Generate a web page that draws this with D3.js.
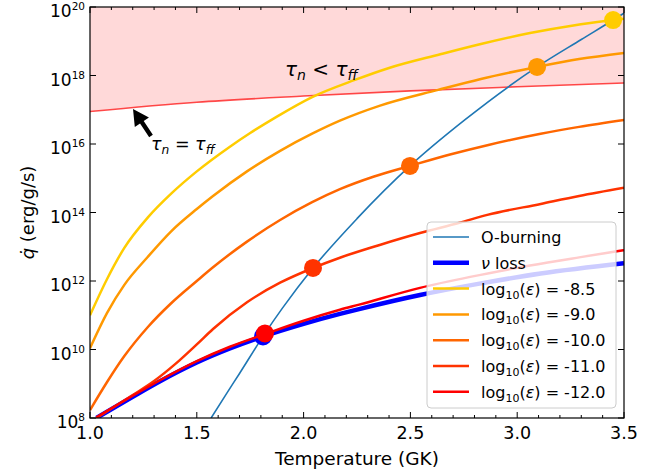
<!DOCTYPE html>
<html><head><meta charset="utf-8">
<script src="https://cdn.jsdelivr.net/npm/d3@7"></script>
<style>
html,body{margin:0;padding:0;background:#fff;}
text{font-family:"DejaVu Sans",sans-serif;fill:#000;}
</style></head>
<body><svg id="c" width="667" height="471"></svg>
<script>
// ---- data (log10 of q in erg/g/s vs temperature in GK) ----
const xTicks = [1.0, 1.5, 2.0, 2.5, 3.0, 3.5];
const yTickExps = [8, 10, 12, 14, 16, 18, 20];

const tauT   = [1.0, 1.5, 2.0, 2.5, 3.0, 3.5];
const tauLog = [16.95, 17.22, 17.40, 17.55, 17.67, 17.78];

const oburnT   = [1.567, 1.64, 1.70, 1.819, 1.90, 2.044, 2.25, 2.498, 2.756, 3.093, 3.30, 3.449, 3.50];
const oburnLog = [8.0, 8.72, 9.30, 10.47, 11.20, 12.38, 13.82, 15.36, 16.71, 18.25, 19.05, 19.62, 19.82];

const nuT   = [1.03, 1.2, 1.33, 1.5, 1.655, 1.81, 2.0, 2.17, 2.26, 2.545, 2.83, 3.11, 3.5];
const nuLog = [8.0, 8.62, 9.08, 9.62, 10.03, 10.38, 10.75, 11.04, 11.18, 11.59, 11.93, 12.22, 12.52];

const epsLabels = ["-8.5", "-9.0", "-10.0", "-11.0", "-12.0"];
const epsColors = ["#ffcc00", "#ff9900", "#ff6600", "#ff3300", "#ff0000"];
const eps85T   = [1.0, 1.08, 1.16, 1.27, 1.38, 1.5, 1.65, 1.75, 1.875, 2.04, 2.24, 2.4, 2.64, 2.83, 3.06, 3.27, 3.449, 3.5];
const eps85Log = [11.0, 12.06, 12.96, 13.85, 14.55, 15.2, 15.9, 16.32, 16.8, 17.37, 17.87, 18.22, 18.62, 18.92, 19.24, 19.47, 19.62, 19.66];
const eps90T   = [1.0, 1.08, 1.16, 1.27, 1.38, 1.5, 1.576, 1.735, 1.89, 2.04, 2.17, 2.358, 2.63, 2.83, 3.093, 3.29, 3.5];
const eps90Log = [10.04, 11.07, 11.88, 12.70, 13.45, 14.10, 14.48, 15.20, 15.80, 16.30, 16.68, 17.12, 17.58, 17.90, 18.25, 18.48, 18.66];
const eps100T   = [1.0, 1.08, 1.16, 1.27, 1.38, 1.5, 1.576, 1.735, 1.89, 2.04, 2.17, 2.33, 2.498, 2.69, 2.87, 3.11, 3.29, 3.5];
const eps100Log = [8.23, 9.05, 9.80, 10.65, 11.35, 12.00, 12.40, 13.15, 13.78, 14.30, 14.68, 15.05, 15.36, 15.70, 15.98, 16.30, 16.50, 16.70];
const eps110T   = [1.03, 1.2, 1.3, 1.4, 1.5, 1.576, 1.735, 1.89, 2.044, 2.17, 2.36, 2.545, 2.73, 2.86, 3.11, 3.29, 3.5];
const eps110Log = [8.0, 8.67, 9.08, 9.58, 10.15, 10.60, 11.38, 11.95, 12.38, 12.68, 13.06, 13.40, 13.70, 13.93, 14.25, 14.48, 14.72];
const eps120T   = [1.03, 1.2, 1.33, 1.5, 1.655, 1.819, 2.0, 2.17, 2.26, 2.545, 2.78, 3.06, 3.29, 3.5];
const eps120Log = [8.02, 8.65, 9.11, 9.66, 10.08, 10.45, 10.84, 11.16, 11.31, 11.80, 12.12, 12.45, 12.69, 12.90];

// crossing points (O-burning = eps curves; nu loss dot)
const dotT   = [3.449, 3.093, 2.498, 2.044, 1.819];
const dotLog = [19.62, 18.25, 15.36, 12.38, 10.47];
const nuDotT = 1.81, nuDotLog = 10.38;

// ---- layout ----
const L = 90, R = 624, T = 7, B = 418;
const svg = d3.select("#c");
const x = d3.scaleLinear().domain([1.0, 3.5]).range([L, R]);
const y = d3.scaleLog().domain([1e8, 1e20]).range([B, T]);
const pts = (ts, ls) => ts.map((t, i) => [t, Math.pow(10, ls[i])]);
const line = d3.line().x(d => x(d[0])).y(d => y(d[1])).curve(d3.curveMonotoneX);

svg.append("defs").append("clipPath").attr("id", "clip")
  .append("rect").attr("x", L).attr("y", T).attr("width", R - L).attr("height", B - T);
const g = svg.append("g").attr("clip-path", "url(#clip)");

// shaded region
const tauPts = pts(tauT, tauLog);
const area = d3.area().x(d => x(d[0])).y0(T).y1(d => y(d[1])).curve(d3.curveMonotoneX);
g.append("path").datum(tauPts).attr("d", area).attr("fill", "#ff0000").attr("fill-opacity", 0.15);
g.append("path").datum(tauPts).attr("d", line).attr("fill", "none")
  .attr("stroke", "#ff0000").attr("stroke-opacity", 0.7).attr("stroke-width", 1.6);

// O-burning
g.append("path").datum(pts(oburnT, oburnLog)).attr("d", line).attr("fill", "none")
  .attr("stroke", "#1f77b4").attr("stroke-width", 1.6);
// nu loss
g.append("path").datum(pts(nuT, nuLog)).attr("d", line).attr("fill", "none")
  .attr("stroke", "#0000ff").attr("stroke-width", 4.5);
g.append("circle").attr("cx", x(nuDotT)).attr("cy", y(Math.pow(10, nuDotLog))).attr("r", 9).attr("fill", "#0000ff");

const epsSeries = [[eps85T, eps85Log], [eps90T, eps90Log], [eps100T, eps100Log], [eps110T, eps110Log], [eps120T, eps120Log]];
epsSeries.forEach((s, i) => {
  g.append("path").datum(pts(s[0], s[1])).attr("d", line).attr("fill", "none")
    .attr("stroke", epsColors[i]).attr("stroke-width", 2.5);
});
epsSeries.forEach((s, i) => {
  g.append("circle").attr("cx", x(dotT[i])).attr("cy", y(Math.pow(10, dotLog[i]))).attr("r", 9)
    .attr("fill", epsColors[i]);
});

// ---- axes ----
const tickLen = 6, minorLen = 3;
const minorX = d3.range(1.0, 3.5001, 0.1).map(v => +v.toFixed(1));
const ax = svg.append("g").attr("stroke", "#000").attr("stroke-width", 1);
minorX.forEach(v => {
  const len = xTicks.some(t => Math.abs(t - v) < 1e-6) ? tickLen : minorLen;
  ax.append("line").attr("x1", x(v)).attr("x2", x(v)).attr("y1", B).attr("y2", B - len);
  ax.append("line").attr("x1", x(v)).attr("x2", x(v)).attr("y1", T).attr("y2", T + len);
});
yTickExps.forEach(e => {
  const yy = y(Math.pow(10, e));
  ax.append("line").attr("x1", L).attr("x2", L + tickLen).attr("y1", yy).attr("y2", yy);
  ax.append("line").attr("x1", R).attr("x2", R - tickLen).attr("y1", yy).attr("y2", yy);
});
svg.append("rect").attr("x", L).attr("y", T).attr("width", R - L).attr("height", B - T)
  .attr("fill", "none").attr("stroke", "#000").attr("stroke-width", 1.2);

xTicks.forEach(v => {
  svg.append("text").attr("x", x(v)).attr("y", B + 21).attr("text-anchor", "middle")
    .attr("font-size", 17.5).text(v.toFixed(1));
});
yTickExps.forEach(e => {
  const t = svg.append("text").attr("x", L - 5).attr("y", y(Math.pow(10, e)) + 10)
    .attr("text-anchor", "end").attr("font-size", 17);
  t.append("tspan").text("10");
  t.append("tspan").attr("dy", -7).attr("font-size", 10.5).text(String(e));
});

svg.append("text").attr("x", (L + R) / 2).attr("y", 465).attr("text-anchor", "middle")
  .attr("font-size", 18.5).text("Temperature (GK)");
const yl = svg.append("text").attr("transform", "translate(34," + ((T + B) / 2) + ") rotate(-90)")
  .attr("text-anchor", "middle").attr("font-size", 18);
yl.append("tspan").attr("font-style", "italic").text("q\u0307");
yl.append("tspan").text(" (erg/g/s)");

// ---- annotations ----
function tauText(xp, yp, op, size) {
  const t = svg.append("text").attr("x", xp).attr("y", yp).attr("font-size", size);
  t.append("tspan").attr("font-style", "italic").text("\u03c4");
  t.append("tspan").attr("font-style", "italic").attr("font-size", size * 0.7).attr("dy", 4).text("n");
  t.append("tspan").attr("dy", -4).text(" " + op + " ");
  t.append("tspan").attr("font-style", "italic").text("\u03c4");
  t.append("tspan").attr("font-style", "italic").attr("font-size", size * 0.7).attr("dy", 4).text("ff");
}
tauText(285, 76, "<", 20);
tauText(151, 150, "=", 17.5);

// arrow pointing at tau line
(function () {
  const tip = [133, 109], tail = [151, 136];
  const dx = tail[0] - tip[0], dy = tail[1] - tip[1], len = Math.hypot(dx, dy);
  const ux = dx / len, uy = dy / len, px = -uy, py = ux;
  const hl = 16, hw = 8.5, sw = 2.2;
  const P = (a, b) => [tip[0] + ux * a + px * b, tip[1] + uy * a + py * b];
  const poly = [P(0, 0), P(hl, hw), P(hl, sw), P(len, sw), P(len, -sw), P(hl, -sw), P(hl, -hw)];
  svg.append("polygon").attr("points", poly.map(p => p.join(",")).join(" ")).attr("fill", "#000");
})();

// ---- legend ----
const lg = svg.append("g");
lg.append("rect").attr("x", 427).attr("y", 222).attr("width", 189).attr("height", 186).attr("rx", 4)
  .attr("fill", "#fff").attr("fill-opacity", 0.8).attr("stroke", "#cccccc").attr("stroke-width", 1);
const legNames = ["O-burning", "\u03bd loss"].concat(epsLabels);
const legColors = ["#1f77b4", "#0000ff"].concat(epsColors);
const legWidths = [1.6, 4.5, 2.5, 2.5, 2.5, 2.5, 2.5];
legNames.forEach((n, i) => {
  const yy = 237 + i * 25.8;
  lg.append("line").attr("x1", 433).attr("x2", 469).attr("y1", yy).attr("y2", yy)
    .attr("stroke", legColors[i]).attr("stroke-width", legWidths[i]);
  const t = lg.append("text").attr("x", 481).attr("y", yy + 6).attr("font-size", 16);
  if (i === 0) t.text(n);
  else if (i === 1) { t.append("tspan").attr("font-style", "italic").text("\u03bd"); t.append("tspan").text(" loss"); }
  else {
    t.append("tspan").text("log");
    t.append("tspan").attr("font-size", 11).attr("dy", 4).text("10");
    t.append("tspan").attr("dy", -4).text("(");
    t.append("tspan").attr("font-style", "italic").text("\u03b5");
    t.append("tspan").text(") = " + n);
  }
});
</script></body></html>
